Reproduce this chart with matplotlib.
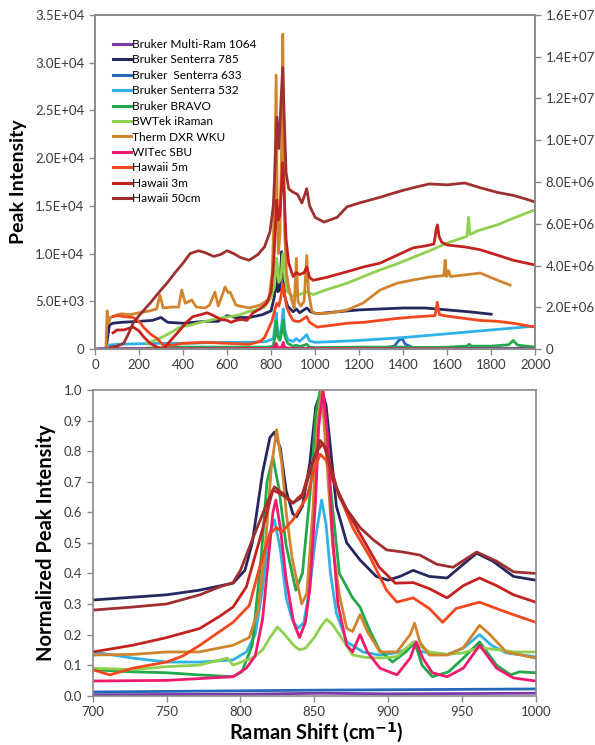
import matplotlib.pyplot as plt
from matplotlib import ticker

plt.rcParams['font.family'] = ['Lato', 'DejaVu Sans']

# ---- series names / colours ----
names = ['Bruker Multi-Ram 1064', 'Bruker Senterra 785', 'Bruker  Senterra 633',
         'Bruker Senterra 532', 'Bruker BRAVO', 'BWTek iRaman', 'Therm DXR WKU',
         'WITec SBU', 'Hawaii 5m', 'Hawaii 3m', 'Hawaii 50cm']
colors = ['#7a3aa8', '#25275e', '#2468b8', '#2fb2e6', '#22a84a', '#8fd14f',
          '#d0842e', '#ee1a6e', '#f2461e', '#c4221f', '#9e3030']

# ---- top panel: raw spectra (x in cm-1, y in counts, left-axis units) ----
x_1064 = [0, 500, 1000, 1400, 1500, 2000]
y_1064 = [30, 40, 60, 80, 50, 40]

x_785 = [50, 58, 65, 80, 120, 200, 260, 300, 330, 400, 450, 500, 560, 600, 640, 700,
         760, 800, 815, 823, 830, 840, 848, 855, 862, 875, 900, 915, 930, 962, 980,
         1010, 1100, 1200, 1300, 1400, 1500, 1600, 1700, 1800]
y_785 = [0, 1300, 2500, 2700, 2800, 2900, 3000, 3300, 2800, 2700, 2800, 2900, 2900, 3500,
         3300, 3300, 3600, 4000, 5500, 8500, 6000, 6200, 10200, 8000, 5500, 4500, 3900,
         4200, 3800, 4300, 3900, 3700, 3900, 4100, 4200, 4300, 4300, 4100, 3900, 3650]

x_633 = [20, 1300, 1360, 1380, 1395, 1410, 1450, 2000]
y_633 = [0, 50, 300, 900, 1100, 500, 100, 50]

x_532 = [60, 100, 200, 300, 400, 500, 600, 700, 780, 810, 818, 823, 830, 840, 848, 855,
         862, 875, 900, 915, 930, 962, 975, 1000, 1200, 1400, 1600, 1800, 2000]
y_532 = [400, 500, 550, 600, 600, 650, 700, 700, 800, 1100, 2500, 3800, 1800, 1300, 2500,
         4200, 2000, 1000, 800, 1100, 800, 1500, 850, 700, 900, 1200, 1600, 2000, 2400]

x_bravo = [240, 400, 600, 780, 810, 818, 823, 830, 840, 848, 855, 862, 875, 900, 915,
           930, 962, 975, 1000, 1200, 1400, 1500, 1600, 1690, 1700, 1710, 1800, 1880,
           1900, 1920, 2000]
y_bravo = [100, 200, 200, 200, 300, 1500, 2900, 1300, 900, 1800, 3000, 1400, 600, 300,
           400, 250, 500, 200, 150, 200, 200, 150, 200, 300, 500, 300, 300, 450, 900,
           400, 200]

x_bwtek = [236, 270, 310, 350, 386, 430, 464, 500, 540, 580, 618, 660, 694, 730, 770,
           800, 815, 826, 835, 845, 853, 862, 875, 900, 917, 940, 962, 991, 1050, 1145,
           1220, 1295, 1370, 1445, 1520, 1600, 1650, 1690, 1697, 1704, 1740, 1827, 1900,
           2000]
y_bwtek = [600, 900, 1300, 1800, 2300, 2500, 2700, 2900, 3100, 3300, 3400, 3600, 3900,
           4100, 4400, 5400, 6500, 9500, 7000, 7500, 10000, 7500, 6000, 5500, 5600, 5800,
           6000, 5700, 6200, 6900, 7600, 8300, 8900, 9600, 10300, 11100, 11500, 11800,
           13800, 12000, 12400, 13000, 13700, 14600]

x_dxr = [50, 55, 62, 70, 90, 120, 160, 200, 250, 280, 295, 310, 350, 380, 394, 410, 440,
         460, 500, 520, 545, 560, 591, 605, 614, 640, 700, 750, 790, 805, 815, 823, 828,
         833, 840, 847, 853, 857, 862, 870, 880, 895, 905, 915, 922, 935, 950, 962, 970,
         985, 1000, 1064, 1145, 1218, 1295, 1373, 1445, 1523, 1585, 1591, 1597, 1603,
         1607, 1615, 1673, 1750, 1827, 1886]
y_dxr = [300, 4000, 2700, 3300, 3500, 3700, 3600, 3800, 4000, 4200, 5660, 4300, 4400,
         4400, 6180, 4800, 5140, 4400, 4300, 4600, 5970, 4500, 6500, 5900, 5970, 4600,
         4300, 4600, 5200, 8000, 15000, 28700, 14000, 10000, 12000, 20000, 33000, 22000,
         12000, 8000, 6500, 5000, 4300, 9500, 5000, 4500, 5000, 9800, 6000, 4000, 3700,
         3770, 4090, 4820, 6180, 6900, 7230, 7550, 7700, 9300, 7600, 7900, 8200, 7600,
         7750, 7960, 7230, 6700]

x_witec = [20, 60, 800, 815, 823, 830, 848, 855, 862, 900, 2000]
y_witec = [0, 0, 50, 200, 600, 150, 200, 700, 150, 50, 0]

x_h5 = [82, 100, 130, 173, 200, 220, 250, 282, 310, 350, 400, 500, 600, 700, 750, 770,
        790, 805, 818, 826, 835, 845, 853, 860, 871, 885, 900, 915, 930, 962, 975, 1009,
        1080, 1145, 1220, 1295, 1370, 1445, 1510, 1545, 1555, 1565, 1600, 1680, 1750,
        1830, 1900, 2000]
y_h5 = [3400, 3500, 3400, 3300, 2900, 2300, 1600, 1100, 400, 400, 600, 700, 600, 500,
        800, 1200, 2200, 3000, 4200, 4800, 4500, 5500, 6800, 6000, 4400, 3600, 3000,
        2900, 2900, 3400, 2800, 2300, 2500, 2700, 2800, 3000, 3200, 3350, 3450, 3500,
        4900, 3600, 3450, 3200, 3000, 2900, 2700, 2300]

x_h3 = [82, 100, 130, 173, 200, 220, 250, 282, 310, 340, 386, 420, 445, 480, 509, 540,
        570, 600, 618, 640, 664, 690, 718, 750, 780, 800, 812, 820, 826, 832, 840, 847,
        853, 860, 868, 880, 900, 915, 930, 950, 962, 975, 991, 1050, 1145, 1220, 1295,
        1370, 1445, 1500, 1540, 1550, 1556, 1563, 1575, 1600, 1680, 1750, 1820, 1900,
        1960, 2000]
y_h3 = [1700, 2000, 2000, 2300, 1900, 1300, 600, 200, 0, 800, 2000, 2900, 3400, 3600,
        3800, 3500, 3100, 3000, 2800, 3000, 3100, 3000, 3800, 4200, 4800, 6000, 9000,
        13000, 15600, 13500, 14000, 17000, 19500, 16000, 11500, 9000, 7600, 8000, 7800,
        8000, 8600, 7500, 7200, 7500, 8100, 8600, 9000, 9800, 10600, 10800, 11000, 12500,
        13000, 11800, 11200, 10900, 10700, 10400, 9900, 9300, 9000, 8800]

x_h50 = [70, 100, 130, 150, 173, 200, 250, 300, 327, 360, 400, 432, 470, 500, 540, 570,
         600, 630, 660, 700, 740, 770, 795, 810, 818, 826, 835, 845, 853, 860, 868, 880,
         895, 920, 940, 955, 962, 975, 1000, 1040, 1100, 1145, 1200, 1295, 1380, 1445,
         1520, 1600, 1680, 1750, 1830, 1900, 1960, 2000]
y_h50 = [200, 300, 600, 1500, 2700, 3500, 4800, 6200, 6900, 7900, 9000, 10000, 10300,
         10100, 9700, 9900, 10300, 10000, 9600, 9300, 9900, 10700, 12300, 15000, 19000,
         24300, 21000, 26000, 29500, 24000, 18500, 16800, 16500, 16200, 15300, 16300,
         16800, 15000, 13800, 13300, 13800, 14900, 15300, 15900, 16500, 16900, 17300,
         17200, 17400, 16900, 16400, 16100, 15700, 15400]

# ---- bottom panel: normalized spectra ----
n_x_1064 = [700, 800, 855, 900, 1000]
n_y_1064 = [0.003, 0.005, 0.008, 0.006, 0.008]

n_x_785 = [700, 750, 772, 795, 803, 808, 815, 820, 823, 827, 831, 835.5, 838, 842, 847,
           851, 855, 858, 861, 865, 872, 881, 892, 900, 908, 917, 928, 940, 951, 960,
           971, 985, 1000]
n_y_785 = [0.313, 0.33, 0.345, 0.368, 0.41, 0.50, 0.73, 0.845, 0.862, 0.81, 0.67, 0.595,
           0.585, 0.62, 0.76, 0.945, 1.0, 0.95, 0.81, 0.62, 0.50, 0.444, 0.39, 0.378,
           0.39, 0.41, 0.39, 0.385, 0.43, 0.466, 0.44, 0.39, 0.378]

n_x_633 = [700, 850, 1000]
n_y_633 = [0.012, 0.018, 0.022]

n_x_532 = [700, 727, 750, 772, 795, 804, 810, 815, 819, 823, 827, 831, 835, 839, 843,
           847, 851, 855, 858, 861, 865, 872, 883, 894, 905, 912, 917, 922, 928, 940,
           951, 962, 970, 980, 1000]
n_y_532 = [0.143, 0.123, 0.11, 0.11, 0.117, 0.143, 0.2, 0.35, 0.52, 0.575, 0.48, 0.32,
           0.25, 0.22, 0.24, 0.355, 0.52, 0.64, 0.56, 0.40, 0.27, 0.176, 0.143, 0.133,
           0.14, 0.15, 0.165, 0.145, 0.14, 0.135, 0.155, 0.2, 0.165, 0.14, 0.127]

n_x_bravo = [700, 727, 750, 772, 795, 801, 808, 814, 818, 822, 826, 831, 837.5, 842, 848,
             851, 854, 857, 860.5, 867, 876, 881, 887, 894, 903, 912, 918, 923, 930, 941,
             951, 962, 973.5, 983, 989, 1000]
n_y_bravo = [0.085, 0.078, 0.075, 0.068, 0.062, 0.078, 0.165, 0.45, 0.70, 0.78, 0.68,
             0.49, 0.345, 0.40, 0.705, 0.92, 1.0, 0.93, 0.705, 0.40, 0.32, 0.29, 0.22,
             0.15, 0.11, 0.143, 0.176, 0.10, 0.062, 0.078, 0.123, 0.176, 0.10, 0.068,
             0.078, 0.075]

n_x_bwtek = [700, 727, 750, 772, 791, 795, 808, 815, 820, 825, 830, 836, 840, 844, 850,
             855, 858.5, 862, 867, 876, 885, 894.5, 906, 917, 928, 940, 951, 962, 975,
             985, 1000]
n_y_bwtek = [0.09, 0.085, 0.095, 0.10, 0.123, 0.10, 0.123, 0.15, 0.19, 0.225, 0.20,
             0.165, 0.15, 0.155, 0.19, 0.23, 0.25, 0.235, 0.20, 0.133, 0.125, 0.123,
             0.128, 0.176, 0.143, 0.135, 0.14, 0.157, 0.15, 0.143, 0.143]

n_x_dxr = [700, 727, 750, 772, 795, 806, 812, 817, 821, 824.5, 828, 831, 835, 838, 841.5,
           845, 849, 852, 855, 858, 862.5, 867, 872, 876, 881, 886, 894.5, 906, 915, 918,
           921.5, 928, 940, 951, 962, 969, 980, 1000]
n_y_dxr = [0.133, 0.135, 0.143, 0.143, 0.165, 0.19, 0.28, 0.50, 0.75, 0.87, 0.76, 0.60,
           0.45, 0.38, 0.30, 0.335, 0.60, 0.88, 1.0, 0.80, 0.49, 0.33, 0.22, 0.21, 0.265,
           0.21, 0.143, 0.143, 0.2, 0.237, 0.176, 0.133, 0.133, 0.157, 0.23, 0.20, 0.143,
           0.123]

n_x_witec = [700, 750, 795, 804, 810, 815, 819, 822, 824, 827, 831, 836, 840, 844, 847,
             851, 853, 856, 859, 862, 866, 872, 876, 881, 886, 894.5, 906, 915, 919,
             923.5, 930, 940, 951, 962, 973.5, 985, 1000]
n_y_witec = [0.048, 0.05, 0.062, 0.09, 0.13, 0.25, 0.45, 0.60, 0.64, 0.55, 0.38, 0.24,
             0.19, 0.24, 0.35, 0.65, 0.88, 1.0, 0.85, 0.55, 0.30, 0.165, 0.143, 0.20,
             0.143, 0.09, 0.068, 0.123, 0.176, 0.123, 0.075, 0.062, 0.09, 0.165, 0.09,
             0.058, 0.048]

n_x_h5 = [700, 711.5, 727, 750, 761, 772.5, 795, 806, 813, 820, 824.5, 828, 835.5, 845,
          850, 854, 858, 865, 876, 887.6, 899, 906, 917, 928, 937, 946, 962, 973.5, 985,
          1000]
n_y_h5 = [0.085, 0.068, 0.09, 0.11, 0.13, 0.165, 0.24, 0.295, 0.42, 0.53, 0.55, 0.535,
          0.575, 0.65, 0.74, 0.79, 0.77, 0.68, 0.55, 0.455, 0.345, 0.306, 0.32, 0.285,
          0.24, 0.285, 0.306, 0.285, 0.265, 0.24]

n_x_h3 = [700, 727, 750, 772.5, 786, 795, 804, 813, 822, 829, 835.5, 842, 847, 851.7, 856,
          860, 867, 881, 894, 905, 917, 928, 940, 951, 962, 973.5, 985, 1000]
n_y_h3 = [0.143, 0.165, 0.19, 0.22, 0.26, 0.29, 0.356, 0.51, 0.673, 0.655, 0.63, 0.66,
          0.74, 0.80, 0.825, 0.77, 0.65, 0.53, 0.42, 0.368, 0.37, 0.35, 0.32, 0.36, 0.385,
          0.36, 0.33, 0.306]

n_x_h50 = [700, 727, 750, 772.5, 786, 795, 800, 808, 818, 823, 829, 835.5, 842, 849, 854,
           858, 862.5, 872, 881, 890, 899, 910, 921.5, 933, 944, 960, 973.5, 985, 1000]
n_y_h50 = [0.28, 0.29, 0.30, 0.33, 0.356, 0.37, 0.41, 0.51, 0.63, 0.683, 0.66, 0.63,
           0.65, 0.76, 0.835, 0.81, 0.705, 0.61, 0.55, 0.51, 0.477, 0.47, 0.46, 0.43,
           0.42, 0.47, 0.44, 0.405, 0.40]

top_x = [x_1064, x_785, x_633, x_532, x_bravo, x_bwtek, x_dxr, x_witec, x_h5, x_h3, x_h50]
top_y = [y_1064, y_785, y_633, y_532, y_bravo, y_bwtek, y_dxr, y_witec, y_h5, y_h3, y_h50]
bot_x = [n_x_1064, n_x_785, n_x_633, n_x_532, n_x_bravo, n_x_bwtek, n_x_dxr, n_x_witec,
         n_x_h5, n_x_h3, n_x_h50]
bot_y = [n_y_1064, n_y_785, n_y_633, n_y_532, n_y_bravo, n_y_bwtek, n_y_dxr, n_y_witec,
         n_y_h5, n_y_h3, n_y_h50]

spine_col = '#8a8a8a'
tick_col = '#3a3a3a'


def style(ax):
    for s in ax.spines.values():
        s.set_color(spine_col)
        s.set_linewidth(1.2)
    ax.tick_params(colors=spine_col, labelcolor=tick_col, labelsize=9.5,
                   length=4, width=1.0, direction='out')


@ticker.FuncFormatter
def sci_fmt(v, pos):
    return '0' if v == 0 else f'{v:.1E}'


fig = plt.figure(figsize=(5.95, 7.45), dpi=100)

# ---- top panel ----
ax1 = fig.add_axes([0.1597, 0.5315, 0.7398, 0.4484])
for xs, ys, c, n in zip(top_x, top_y, colors, names):
    ax1.plot(xs, ys, color=c, lw=2.0, label=n, solid_joinstyle='round')
ax1.set_xlim(0, 2000)
ax1.set_ylim(0, 35000)
ax1.xaxis.set_major_locator(ticker.MultipleLocator(200))
ax1.yaxis.set_major_locator(ticker.MultipleLocator(5000))
ax1.yaxis.set_major_formatter(sci_fmt)
style(ax1)
ax1.set_ylabel('Peak Intensity', fontsize=14, fontweight='bold', labelpad=6)
leg = ax1.legend(loc='upper left', bbox_to_anchor=(0.041, 0.928), frameon=False,
                 fontsize=8.6, handlelength=1.5, handletextpad=0.05, labelspacing=0.37,
                 borderpad=0, borderaxespad=0)
for h in leg.get_lines():
    h.set_linewidth(2.2)

ax1r = ax1.twinx()
ax1r.set_ylim(0, 1.6e7)
ax1r.yaxis.set_major_locator(ticker.MultipleLocator(2e6))
ax1r.yaxis.set_major_formatter(sci_fmt)
style(ax1r)

# ---- bottom panel ----
ax2 = fig.add_axes([0.156, 0.0662, 0.7443, 0.4103])
for xs, ys, c in zip(bot_x, bot_y, colors):
    ax2.plot(xs, ys, color=c, lw=2.0, solid_joinstyle='round')
ax2.set_xlim(700, 1000)
ax2.set_ylim(0, 1.0)
ax2.xaxis.set_major_locator(ticker.MultipleLocator(50))
ax2.yaxis.set_major_locator(ticker.MultipleLocator(0.1))
ax2.yaxis.set_major_formatter(ticker.FormatStrFormatter('%.1f'))
style(ax2)
ax2.set_ylabel('Normalized Peak Intensity', fontsize=14.5, fontweight='bold', labelpad=6)
# x label placed by its baseline so it sits close to the bottom edge, as in the original
fig.text(0.532, 6 / 745, 'Raman Shift (cm$^{\\mathbf{-1}}$)', fontsize=14.5,
         fontweight='bold', ha='center', va='baseline')

fig.savefig('out.png', dpi=100)
